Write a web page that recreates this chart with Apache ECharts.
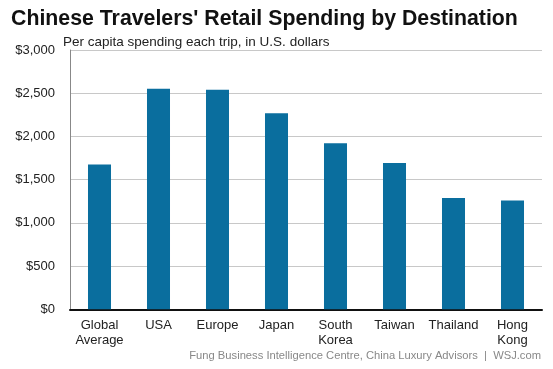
<!DOCTYPE html>
<html><head><meta charset="utf-8">
<script src="https://cdn.jsdelivr.net/npm/echarts@6/dist/echarts.min.js"></script>
<style>html,body{margin:0;padding:0;background:#fff}#c{width:553px;height:369px}</style>
</head><body><div id="c"></div>
<script>
const categories = ['Global\nAverage','USA','Europe','Japan','South\nKorea','Taiwan','Thailand','Hong\nKong'];
const spending = [1675, 2552, 2540, 2267, 1920, 1693, 1289, 1259];
const yTicks = [0, 500, 1000, 1500, 2000, 2500, 3000];
const titleText = "Chinese Travelers' Retail Spending by Destination";
const subtitleText = 'Per capita spending each trip, in U.S. dollars';
const sourceText = 'Fung Business Intelligence Centre, China Luxury Advisors  |  WSJ.com';

const chart = echarts.init(document.getElementById('c'), null, {renderer:'canvas'});
const font = 'Liberation Sans, Arial, sans-serif';
chart.setOption({
  animation: false,
  textStyle: {fontFamily: font},
  title: [
    {text: titleText, left: 6, top: 4, textStyle: {fontFamily: font, fontSize: 21.3, fontWeight: 'bold', color: '#111'}},
    {text: subtitleText, left: 58, top: 30, textStyle: {fontFamily: font, fontSize: 13.5, fontWeight: 'normal', color: '#222'}},
    {text: sourceText, right: 7, top: 345, textStyle: {fontFamily: font, fontSize: 11.2, fontWeight: 'normal', color: '#888'}}
  ],
  grid: {left: 70, right: 11, top: 50, bottom: 59.7},
  xAxis: {
    type: 'category', data: categories,
    axisLine: {lineStyle: {color: '#111', width: 2}},
    axisTick: {show: false},
    axisLabel: {color: '#222', fontSize: 13, fontFamily: font, lineHeight: 15, margin: 9, interval: 0}
  },
  yAxis: {
    type: 'value', min: yTicks[0], max: yTicks[yTicks.length-1], interval: 500,
    axisLine: {show: true, lineStyle: {color: '#888', width: 1}},
    axisTick: {show: false},
    splitLine: {lineStyle: {color: '#c8c8c8', width: 1}},
    axisLabel: {color: '#222', fontSize: 13, fontFamily: font, margin: 15,
      formatter: v => '$' + v.toLocaleString('en-US')}
  },
  series: [{
    type: 'bar', data: spending, barWidth: '39%',
    itemStyle: {color: '#0a6e9e'}
  }]
});
</script></body></html>
